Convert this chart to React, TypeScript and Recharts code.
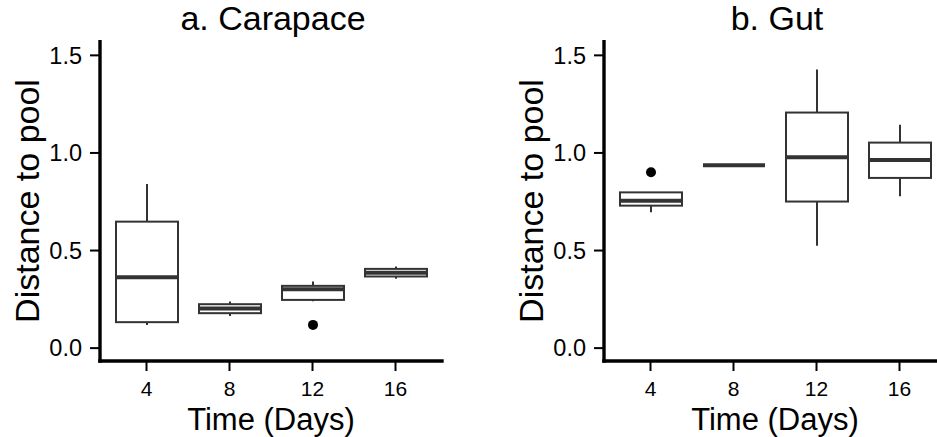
import React from 'react';
import { ComposedChart, Bar, XAxis, YAxis, Customized } from 'recharts';

const FONT = '"Liberation Sans", Arial, Helvetica, sans-serif';
const BOX_COLOR = '#333333';

// day categories shared by both panels
const days = ['4', '8', '12', '16'];
const yTicks = [0, 0.5, 1, 1.5];
const Y_MIN = -0.066;
const Y_MAX = 1.57;

// a. Carapace
const carapaceLow = [0.119, 0.165, 0.24, 0.356];
const carapaceQ1 = [0.133, 0.179, 0.247, 0.367];
const carapaceMedian = [0.363, 0.203, 0.302, 0.386];
const carapaceQ3 = [0.648, 0.225, 0.319, 0.406];
const carapaceHigh = [0.841, 0.239, 0.341, 0.418];
const carapaceOutliers = [[], [], [0.119], []];

// b. Gut
const gutLow = [0.696, 0.937, 0.525, 0.778];
const gutQ1 = [0.73, 0.937, 0.751, 0.872];
const gutMedian = [0.755, 0.937, 0.978, 0.964];
const gutQ3 = [0.798, 0.937, 1.207, 1.053];
const gutHigh = [0.798, 0.937, 1.428, 1.144];
const gutOutliers = [[0.901], [], [], []];

type Row = {
  day: string;
  range: [number, number];
  q1: number;
  median: number;
  q3: number;
  outliers: number[];
};

function buildRows(
  low: number[],
  q1: number[],
  median: number[],
  q3: number[],
  high: number[],
  outliers: number[][]
): Row[] {
  return days.map((day, i) => ({
    day,
    range: [low[i], high[i]],
    q1: q1[i],
    median: median[i],
    q3: q3[i],
    outliers: outliers[i],
  }));
}

const carapaceRows = buildRows(carapaceLow, carapaceQ1, carapaceMedian, carapaceQ3, carapaceHigh, carapaceOutliers);
const gutRows = buildRows(gutLow, gutQ1, gutMedian, gutQ3, gutHigh, gutOutliers);

// the bar spans the whisker range; everything else is placed inside it
function BoxShape(props: any) {
  const { x, y, width, height, payload } = props;
  const [lo, hi] = payload.range;
  const yHi = Math.min(y, y + height);
  const yLo = Math.max(y, y + height);
  const toY = (v: number) => (hi === lo ? yHi : yLo - ((v - lo) / (hi - lo)) * (yLo - yHi));
  const cx = x + width / 2;
  const q1 = toY(payload.q1);
  const q3 = toY(payload.q3);
  const med = toY(payload.median);
  return (
    <g>
      <line x1={cx} x2={cx} y1={toY(hi)} y2={q3} stroke={BOX_COLOR} strokeWidth={2} />
      <line x1={cx} x2={cx} y1={q1} y2={toY(lo)} stroke={BOX_COLOR} strokeWidth={2} />
      <rect x={x} y={q3} width={width} height={Math.max(q1 - q3, 0)} fill="#fff" stroke={BOX_COLOR} strokeWidth={2} />
      <line x1={x} x2={x + width} y1={med} y2={med} stroke={BOX_COLOR} strokeWidth={4} />
      {payload.outliers.map((v: number, i: number) => (
        <circle key={i} cx={cx} cy={toY(v)} r={5} fill="#000" />
      ))}
    </g>
  );
}

function Panel({ title, rows }: { title: string; rows: Row[] }) {
  return (
    <ComposedChart
      width={470}
      height={437}
      data={rows}
      margin={{ top: 41.7, right: 28, bottom: 0, left: 0 }}
    >
      <XAxis
        dataKey="day"
        height={76}
        padding={{ left: 5, right: 5 }}
        axisLine={{ stroke: '#000', strokeWidth: 3.4, strokeLinecap: 'square' }}
        tickLine={{ stroke: '#000', strokeWidth: 2 }}
        tickSize={10}
        tickMargin={10}
        tick={{ fill: '#000', fontSize: 21, fontFamily: FONT }}
      />
      <XAxis xAxisId="top" dataKey="day" orientation="top" height={0} tick={false} tickLine={false} axisLine={{ stroke: '#888', strokeWidth: 1 }} />
      <YAxis
        type="number"
        width={100}
        domain={[Y_MIN, Y_MAX]}
        ticks={yTicks}
        allowDataOverflow
        tickFormatter={(v: number) => v.toFixed(1)}
        axisLine={{ stroke: '#000', strokeWidth: 3.4, strokeLinecap: 'square' }}
        tickLine={{ stroke: '#000', strokeWidth: 2 }}
        tickSize={10}
        tickMargin={8}
        tick={{ fill: '#000', fontSize: 23.5, fontFamily: FONT }}
      />
      <YAxis yAxisId="right" type="number" orientation="right" width={0} domain={[Y_MIN, Y_MAX]} allowDataOverflow tick={false} tickLine={false} axisLine={{ stroke: '#888', strokeWidth: 1 }} />
      <Bar dataKey="range" barSize={62} shape={<BoxShape />} isAnimationActive={false} />
      <Customized
        component={() => (
          <g fontFamily={FONT} fill="#000">
            <text x={273} y={30} fontSize={34} textAnchor="middle">{title}</text>
            <text x={271} y={430} fontSize={31} textAnchor="middle">Time (Days)</text>
            <text x={39.3} y={201} fontSize={34} textAnchor="middle" transform="rotate(-90 39.3 201)">
              Distance to pool
            </text>
          </g>
        )}
      />
    </ComposedChart>
  );
}

export default function App() {
  return (
    <div style={{ position: 'absolute', left: 0, top: 0, width: 937, height: 437, overflow: 'hidden', background: '#fff' }}>
      <div style={{ position: 'absolute', left: 0, top: 0 }}>
        <Panel title="a. Carapace" rows={carapaceRows} />
      </div>
      <div style={{ position: 'absolute', left: 504, top: 0 }}>
        <Panel title="b. Gut" rows={gutRows} />
      </div>
    </div>
  );
}
